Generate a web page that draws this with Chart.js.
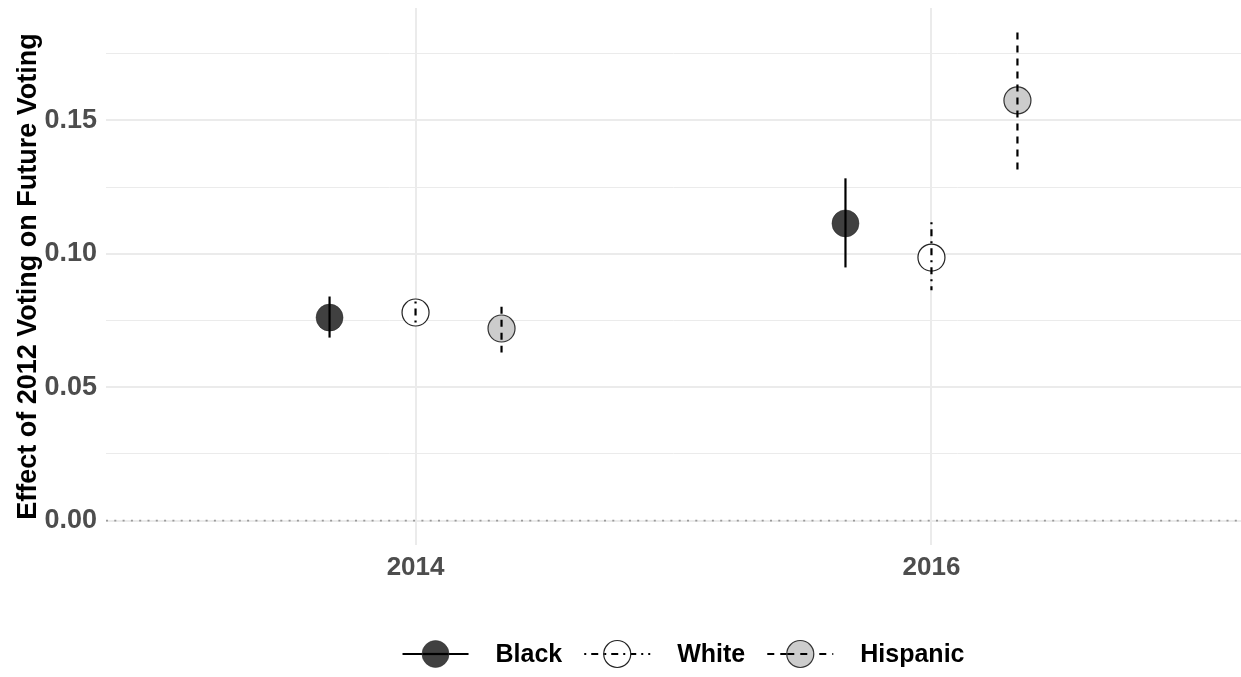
<!DOCTYPE html>
<html>
<head>
<meta charset="utf-8">
<script src="https://cdn.jsdelivr.net/npm/chart.js@4/dist/chart.umd.min.js"></script>
<style>
  html, body { margin: 0; padding: 0; background: #ffffff; }
  #wrap { width: 1241px; height: 677px; position: relative; }
</style>
</head>
<body>
<div id="wrap"><canvas id="c"></canvas></div>
<script>
// ---- data ----
const categories = ['2014', '2016'];
const groups = ['Black', 'White', 'Hispanic'];
const blackEst = [0.0761, 0.1114];
const blackLo  = [0.0686, 0.0949];
const blackHi  = [0.0840, 0.1283];
const whiteEst = [0.0780, 0.0986];
const whiteLo  = [0.0728, 0.0863];
const whiteHi  = [0.0821, 0.1118];
const hispEst  = [0.0720, 0.1575];
const hispLo   = [0.0630, 0.1316];
const hispHi   = [0.0802, 0.1830];
const yMajorTicks = [0, 0.05, 0.10, 0.15];
const yMinorTicks = [0.025, 0.075, 0.125, 0.175];
const yAxisTitle = 'Effect of 2012 Voting on Future Voting';

// ---- styles ----
const FONT = '"Liberation Sans", Arial, Helvetica, sans-serif';
const styles = [
  { fill: '#404040', border: '#2a2a2a', dash: [] },
  { fill: '#ffffff', border: '#222222', dash: [2, 5, 7, 5] },
  { fill: '#cccccc', border: '#333333', dash: [7, 6] }
];
const estimates = [blackEst, whiteEst, hispEst];
const lows = [blackLo, whiteLo, hispLo];
const highs = [blackHi, whiteHi, hispHi];
const dodgeWidth = 0.5;
const offsetFor = g => (g - (groups.length - 1) / 2) * dodgeWidth / groups.length;

const datasets = groups.map((name, g) => ({
  label: name,
  data: categories.map((c, i) => ({ x: i + offsetFor(g), y: estimates[g][i] })),
  pointRadius: 13.5,
  pointHoverRadius: 13.5,
  pointBackgroundColor: styles[g].fill,
  pointBorderColor: styles[g].border,
  pointBorderWidth: g === 0 ? 0.5 : 1.2,
  showLine: false
}));

const ySpanMax = Math.max(...hispHi, ...blackHi, ...whiteHi);
const yPad = ySpanMax * 0.05;

const noPad = s => { s.paddingTop = 0; s.paddingBottom = 0; s.paddingLeft = 0; s.paddingRight = 0; };

const extras = {
  id: 'extras',
  beforeDatasetsDraw(chart) {
    const { ctx, chartArea, scales } = chart;
    const y0 = scales.y.getPixelForValue(0);
    ctx.save();
    ctx.strokeStyle = '#9a9a9a';
    ctx.lineWidth = 1.6;
    ctx.setLineDash([2, 6.3]);
    ctx.beginPath();
    ctx.moveTo(chartArea.left, y0);
    ctx.lineTo(chartArea.right, y0);
    ctx.stroke();
    ctx.restore();
  },
  afterDatasetsDraw(chart) {
    const { ctx, scales } = chart;
    ctx.save();
    ctx.strokeStyle = '#000000';
    ctx.lineWidth = 2.2;
    groups.forEach((name, g) => {
      categories.forEach((c, i) => {
        const x = scales.x.getPixelForValue(i + offsetFor(g));
        const yl = scales.y.getPixelForValue(lows[g][i]);
        const yh = scales.y.getPixelForValue(highs[g][i]);
        ctx.setLineDash(styles[g].dash);
        ctx.beginPath();
        ctx.moveTo(x, yh);
        ctx.lineTo(x, yl);
        ctx.stroke();
      });
    });
    ctx.restore();
  },
  afterDraw(chart) {
    const { ctx, chartArea } = chart;
    ctx.save();
    ctx.font = 'bold 25px ' + FONT;
    const keyW = 66, keyGap = 27, itemGap = 22;
    const widths = groups.map(n => ctx.measureText(n).width);
    let total = 0;
    widths.forEach((w, i) => { total += keyW + keyGap + w + (i < widths.length - 1 ? itemGap : 0); });
    const cx = (chartArea.left + chartArea.right) / 2 + 10;
    let x = cx - total / 2;
    const y = 654;
    groups.forEach((name, g) => {
      const kc = x + keyW / 2;
      ctx.strokeStyle = '#000';
      ctx.lineWidth = 2.2;
      ctx.setLineDash(styles[g].dash);
      ctx.beginPath();
      ctx.moveTo(x, y);
      ctx.lineTo(x + keyW, y);
      ctx.stroke();
      ctx.setLineDash([]);
      ctx.beginPath();
      ctx.arc(kc, y, 13.5, 0, Math.PI * 2);
      ctx.fillStyle = styles[g].fill;
      ctx.fill();
      ctx.lineWidth = g === 0 ? 0.5 : 1.2;
      ctx.strokeStyle = styles[g].border;
      ctx.stroke();
      ctx.lineWidth = 2.2;
      ctx.strokeStyle = '#000';
      ctx.setLineDash(styles[g].dash);
      ctx.beginPath();
      ctx.moveTo(kc - 13, y);
      ctx.lineTo(kc + 13, y);
      ctx.stroke();
      ctx.setLineDash([]);
      ctx.fillStyle = '#000';
      ctx.textBaseline = 'middle';
      ctx.textAlign = 'left';
      ctx.fillText(name, x + keyW + keyGap, y + 1);
      x += keyW + keyGap + widths[g] + itemGap;
    });
    ctx.restore();
  }
};

new Chart(document.getElementById('c'), {
  type: 'scatter',
  data: { datasets },
  plugins: [extras],
  options: {
    responsive: true,
    maintainAspectRatio: false,
    animation: false,
    events: [],
    layout: { autoPadding: false, padding: { top: 8, right: 0, left: 0, bottom: 0 } },
    plugins: { legend: { display: false }, tooltip: { enabled: false } },
    scales: {
      x: {
        type: 'linear',
        min: -0.6,
        max: categories.length - 1 + 0.6,
        afterFit: s => { s.height = 132; noPad(s); },
        afterBuildTicks: s => { s.ticks = categories.map((c, i) => ({ value: i })); },
        ticks: {
          callback: v => categories[v] ?? '',
          font: { family: FONT, size: 26, weight: 'bold' },
          color: '#4d4d4d',
          padding: 7,
          maxRotation: 0
        },
        grid: { color: '#ebebeb', lineWidth: 2, drawTicks: false },
        border: { display: false }
      },
      y: {
        type: 'linear',
        min: -yPad,
        max: ySpanMax + yPad,
        afterFit: s => { s.width = 106; noPad(s); },
        afterBuildTicks: s => {
          s.ticks = [...yMajorTicks, ...yMinorTicks].sort((a, b) => a - b).map(v => ({ value: v }));
        },
        ticks: {
          callback: v => yMajorTicks.some(t => Math.abs(t - v) < 1e-9) ? v.toFixed(2) : '',
          font: { family: FONT, size: 27, weight: 'bold' },
          color: '#4d4d4d',
          padding: 9
        },
        grid: {
          color: c => '#ebebeb',
          lineWidth: c => yMajorTicks.some(t => Math.abs(t - c.tick.value) < 1e-9) ? 2 : 1,
          drawTicks: false
        },
        border: { display: false },
        title: {
          display: true,
          text: yAxisTitle,
          font: { family: FONT, size: 27, weight: 'bold' },
          color: '#000000',
          padding: { top: 12, bottom: 0 }
        }
      }
    }
  }
});
</script>
</body>
</html>
